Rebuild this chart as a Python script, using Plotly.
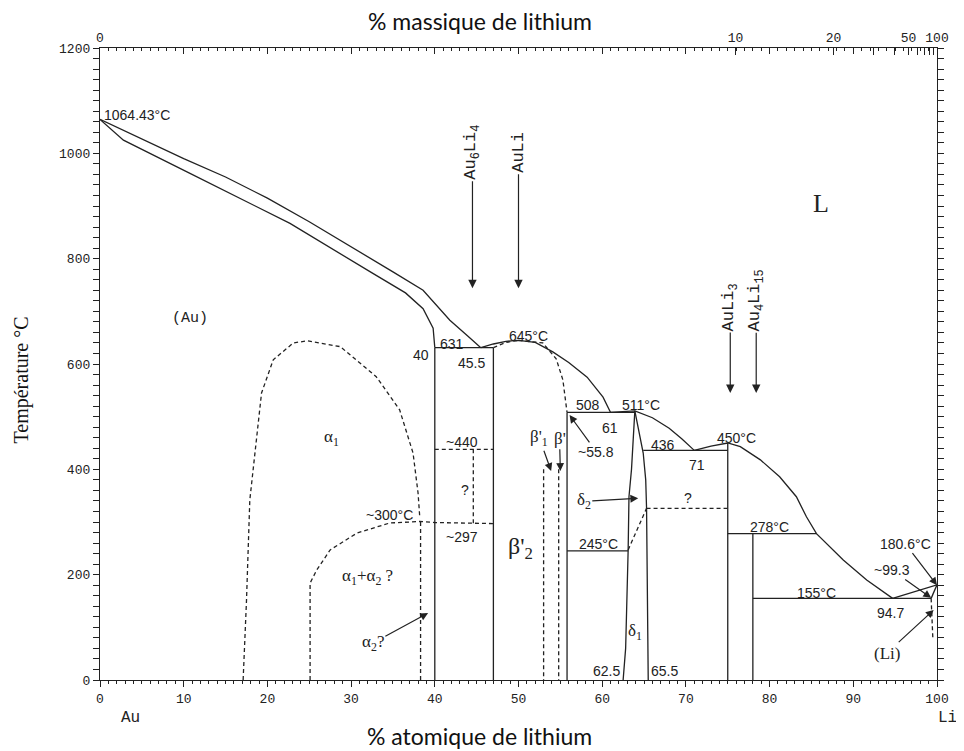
import plotly.graph_objects as go

# ---------------- data (at.% Li, temperature in °C) ----------------
liq_au_at = [0, 5, 10, 15, 20, 25, 30, 35, 38.6, 41.8, 44, 45.5]
liq_au_T = [1064.43, 1027, 990, 955, 915, 870, 823, 775, 740, 683, 652, 631]

sol_au_at = [0, 2.8, 10.75, 22.7, 32.6, 36.5, 38.6, 39.8, 40]
sol_au_T = [1064.43, 1025, 962, 867, 772, 735, 705, 668, 631]

peri631_at = [40, 47]
peri631_T = [631, 631]
v40_at = [40, 40]
v40_T = [631, 0]
v47_at = [47, 47]
v47_T = [631, 0]

liq_auli_at = [45.5, 47, 48.5, 50, 52, 54.1, 56, 58.2, 60.1, 61]
liq_auli_T = [631, 638, 643, 645, 641, 623, 603, 575, 537, 508]

sol_auli_left_at = [47, 48.5, 50]
sol_auli_left_T = [631, 641, 645]
sol_auli_right_at = [50, 52.9, 54.5, 55.3, 55.8]
sol_auli_right_T = [645, 640, 610, 570, 508]

peri508_at = [55.8, 63.9]
peri508_T = [508, 508]
v558_at = [55.8, 55.8]
v558_T = [508, 0]
eut245_at = [55.8, 63.1]
eut245_T = [245, 245]

delta_left_at = [63.9, 63.5, 63.2, 63.1, 62.8, 62.5]
delta_left_T = [511, 400, 348, 247, 60, 0]
delta_right_at = [63.9, 64.4, 64.9, 65.2, 65.3, 65.5]
delta_right_T = [511, 470, 431, 380, 326, 0]

liq_delta_at = [61, 62.5, 63.9, 66, 68, 69.5, 71]
liq_delta_T = [508, 510, 511, 498, 478, 458, 436]

eut436_at = [64.9, 75]
eut436_T = [436, 436]
delta_trans_at = [63.1, 65.3]
delta_trans_T = [247, 326]
h326_at = [65.3, 75]
h326_T = [326, 326]

liq_li_at = [71, 73, 75, 76.5, 78.9, 81.2, 83.2, 84.4, 85.6, 88.8, 91.6, 94.7]
liq_li_T = [436, 444, 450, 443, 418, 386, 348, 310, 278, 228, 190, 155]

v75_at = [75, 75]
v75_T = [450, 0]
peri278_at = [75, 85.6]
peri278_T = [278, 278]
v78_at = [78, 78]
v78_T = [278, 0]
eut155_at = [78, 99.3]
eut155_T = [155, 155]
liq_lim_at = [94.7, 100]
liq_lim_T = [155, 180.6]
sol_lim_at = [99.3, 100]
sol_lim_T = [155, 180.6]
solvus_li_at = [99.3, 99.5]
solvus_li_T = [155, 80]

alpha1_at = [17.1, 17.5, 17.9, 18.5, 19.3, 20.7, 23.1, 24.8, 28.7, 33, 35.8, 37.4, 38, 38.2]
alpha1_T = [0, 150, 342, 431, 545, 608, 640, 644, 633, 576, 513, 431, 355, 310]
alpha12_at = [25.1, 25.1, 25.9, 27.5, 30.7, 34.6, 38.2, 40, 47]
alpha12_T = [0, 184, 209, 247, 279, 298, 301, 299, 297]
v383_at = [38.3, 38.3]
v383_T = [0, 301]
h440_at = [40, 47]
h440_T = [438, 438]
v446_at = [44.6, 44.6]
v446_T = [438, 297]
v53_at = [53, 53]
v53_T = [400, 0]
v548_at = [54.8, 54.8]
v548_T = [400, 0]

wt_labels = [0, 10, 20, 50, 100]
wt_unlabeled = [30, 40, 60, 70, 80, 90]

M_LI, M_AU = 6.941, 196.967


def wt_to_at(w):
    if w >= 100:
        return 100.0
    a = w / M_LI
    b = (100 - w) / M_AU
    return 100 * a / (a + b)


solid = [
    (liq_au_at, liq_au_T), (sol_au_at, sol_au_T), (peri631_at, peri631_T),
    (v40_at, v40_T), (v47_at, v47_T), (liq_auli_at, liq_auli_T),
    (peri508_at, peri508_T), (v558_at, v558_T), (eut245_at, eut245_T),
    (delta_left_at, delta_left_T), (delta_right_at, delta_right_T),
    (liq_delta_at, liq_delta_T), (eut436_at, eut436_T), (liq_li_at, liq_li_T),
    (v75_at, v75_T), (peri278_at, peri278_T), (v78_at, v78_T),
    (eut155_at, eut155_T), (liq_lim_at, liq_lim_T), (sol_lim_at, sol_lim_T),
]
dashed = [
    (sol_auli_left_at, sol_auli_left_T), (sol_auli_right_at, sol_auli_right_T),
    (delta_trans_at, delta_trans_T), (h326_at, h326_T), (solvus_li_at, solvus_li_T),
    (alpha1_at, alpha1_T), (alpha12_at, alpha12_T), (v383_at, v383_T),
    (h440_at, h440_T), (v446_at, v446_T), (v53_at, v53_T), (v548_at, v548_T),
]

fig = go.Figure()
for xs, ys in solid:
    fig.add_trace(go.Scatter(x=xs, y=ys, mode="lines", line=dict(color="#222", width=1.3),
                             showlegend=False, hoverinfo="skip"))
for xs, ys in dashed:
    fig.add_trace(go.Scatter(x=xs, y=ys, mode="lines",
                             line=dict(color="#222", width=1.3, dash="4px,3px"),
                             showlegend=False, hoverinfo="skip"))
# dummy traces to activate the top axes
for ax in ("x2", "x3"):
    fig.add_trace(go.Scatter(x=[0, 100], y=[None, None], xaxis=ax, mode="lines",
                             showlegend=False, hoverinfo="skip"))

NUM = dict(family="Liberation Sans", size=14, color="#222")
GREEK = dict(family="Liberation Serif", size=17, color="#222")
MONO = dict(family="Liberation Mono", size=15, color="#222")
SERIF = dict(family="Liberation Serif", size=17, color="#222")

labels = [
    ("(Au)", 10.8, 687, MONO),
    ("L", 86.2, 905, dict(family="Liberation Serif", size=26, color="#222")),
    ("α<sub>1</sub>", 27.7, 459, GREEK),
    ("40", 38.3, 617, NUM), ("631", 42, 638, NUM), ("45.5", 44.4, 601, NUM),
    ("645°C", 51.2, 653, NUM), ("~440", 43.2, 452, NUM), ("?", 43.6, 361, NUM),
    ("~297", 43.2, 272, NUM), ("~300°C", 34.6, 314, NUM),
    ("α<sub>1</sub>+α<sub>2</sub> ?", 31.9, 196, GREEK),
    ("β'<sub>2</sub>", 50.2, 250, dict(family="Liberation Serif", size=24, color="#222")),
    ("508", 58.3, 522, NUM), ("511°C", 64.6, 522, NUM), ("61", 60.9, 478, NUM),
    ("245°C", 59.5, 259, NUM), ("δ<sub>1</sub>", 63.9, 92, GREEK),
    ("62.5", 60.5, 17, NUM), ("65.5", 67.5, 17, NUM), ("436", 67.3, 447, NUM),
    ("71", 71.3, 408, NUM), ("450°C", 76, 460, NUM), ("?", 70.3, 346, NUM),
    ("278°C", 80, 291, NUM), ("155°C", 85.6, 166, NUM), ("94.7", 94.4, 128, NUM),
]
arrow_labels = [
    ("α<sub>2</sub>?", 32.6, 70, 39.2, 127, GREEK),
    ("β'<sub>1</sub>", 52.5, 459, 53.9, 397, GREEK),
    ("β'", 54.9, 459, 55.0, 397, GREEK),
    ("~55.8", 59.3, 433, 56.1, 503, NUM),
    ("δ<sub>2</sub>", 57.8, 339, 64.3, 345, GREEK),
    ("180.6°C", 96.2, 259, 100, 180, NUM),
    ("~99.3", 94.6, 209, 99.3, 156, NUM),
    ("(Li)", 94, 51, 99.6, 133, SERIF),
]
compounds = [
    ("Au<sub>6</sub>Li<sub>4</sub>", 44.5, 1002, 744),
    ("AuLi", 50.0, 1002, 744),
    ("AuLi<sub>3</sub>", 75.3, 708, 545),
    ("Au<sub>4</sub>Li<sub>15</sub>", 78.4, 721, 545),
]

ann = []
ann.append(dict(x=0.2, y=1073, text="1064.43°C", showarrow=False, xanchor="left",
                font=NUM))
for t, x, y, f in labels:
    ann.append(dict(x=x, y=y, text=t, showarrow=False, font=f))
for t, tx, ty, hx, hy, f in arrow_labels:
    ann.append(dict(x=hx, y=hy, ax=tx, ay=ty, axref="x", ayref="y", text=t,
                    showarrow=True, arrowhead=2, arrowsize=1.3, arrowwidth=1.2,
                    arrowcolor="#222", font=f))
for t, x, ty, tip in compounds:
    ann.append(dict(x=x, y=tip, ax=x, ay=ty, axref="x", ayref="y", text=t,
                    textangle=-90, showarrow=True, arrowhead=2, arrowsize=1.4,
                    arrowwidth=1.2, arrowcolor="#222", standoff=0,
                    font=dict(family="Liberation Mono", size=17, color="#222")))

# axis titles and end labels (paper coordinates)
P = dict(xref="paper", yref="paper", showarrow=False, xanchor="center", yanchor="middle")
ann += [
    dict(x=0.454, y=1.043, text="% massique de lithium",
         font=dict(family="Lato", size=23, color="#111"), **P),
    dict(x=0.454, y=-0.088, text="% atomique de lithium",
         font=dict(family="Lato", size=23, color="#111"), **P),
    dict(x=-0.0935, y=0.475, text="Température °C", textangle=-90,
         font=dict(family="Liberation Serif", size=20, color="#111"), **P),
    dict(x=0.037, y=-0.060, text="Au",
         font=dict(family="Liberation Mono", size=16, color="#222"), **P),
    dict(x=1.013, y=-0.060, text="Li",
         font=dict(family="Liberation Mono", size=16, color="#222"), **P),
]

top_vals = [wt_to_at(w) for w in wt_labels] + [wt_to_at(w) for w in wt_unlabeled]
top_text = [str(w) for w in wt_labels] + [""] * len(wt_unlabeled)

TICKFONT = dict(family="Liberation Mono", size=13, color="#222")
AX = dict(showgrid=False, zeroline=False, tickcolor="#222", tickfont=TICKFONT)
fig.update_layout(
    width=956, height=743,
    margin=dict(l=92, r=27, t=40, b=71),
    plot_bgcolor="white", paper_bgcolor="white",
    xaxis=dict(range=[0, 100], tickmode="linear", tick0=0, dtick=10, ticks="outside",
               ticklen=6, showline=True, linecolor="#222", linewidth=1.3, mirror=True,
               minor=dict(dtick=1, ticks="outside", ticklen=3, tickcolor="#222",
                          showgrid=False), **AX),
    xaxis2=dict(range=[0, 100], overlaying="x", side="top", tickmode="array",
                tickvals=top_vals, ticktext=top_text, ticks="inside", ticklen=7,
                showline=True, linecolor="#222", linewidth=1.3, **AX),
    xaxis3=dict(range=[0, 100], overlaying="x", side="top", tickmode="linear",
                tick0=0, dtick=10, ticks="inside", ticklen=6, showticklabels=False,
                minor=dict(dtick=1, ticks="inside", ticklen=3, tickcolor="#222",
                           showgrid=False), **AX),
    yaxis=dict(range=[0, 1200], tickmode="linear", tick0=0, dtick=200, ticks="outside",
               ticklen=6, showline=True, linecolor="#222", linewidth=1.3,
               mirror="allticks",
               minor=dict(dtick=20, ticks="outside", ticklen=3, tickcolor="#222",
                          showgrid=False), **AX),
    annotations=ann,
)

fig.write_html("out.html")
